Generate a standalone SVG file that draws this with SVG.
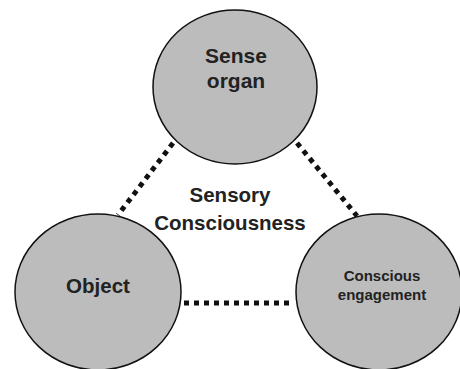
<svg xmlns="http://www.w3.org/2000/svg" width="460" height="369" viewBox="0 0 460 369">
<style>
.node{fill:#bcbcbc;stroke:#111;stroke-width:1.5}
.lbl{font-family:"Liberation Sans",Arial,sans-serif;font-weight:bold;fill:#222;text-anchor:middle}
.dot{stroke:#111;stroke-width:5;stroke-dasharray:5 5;fill:none}
</style>
<rect width="460" height="369" fill="#fff"/>
<g id="connectors">
<line class="dot" x1="173" y1="143" x2="118" y2="215"/>
<line class="dot" x1="297" y1="143" x2="357" y2="216"/>
<line class="dot" x1="184" y1="303" x2="292" y2="303"/>
</g>
<g id="sense-organ">
<ellipse class="node" cx="235" cy="87" rx="82" ry="77"/>
<text class="lbl" x="236" y="63" font-size="21">Sense</text>
<text class="lbl" x="236" y="88" font-size="21">organ</text>
</g>
<g id="object">
<ellipse class="node" cx="98" cy="292" rx="83" ry="78"/>
<text class="lbl" x="98" y="293" font-size="20.5">Object</text>
</g>
<g id="conscious-engagement">
<ellipse class="node" cx="379" cy="292" rx="83" ry="78"/>
<text class="lbl" x="382" y="281" font-size="15">Conscious</text>
<text class="lbl" x="382" y="300" font-size="15">engagement</text>
</g>
<g id="center-label">
<text class="lbl" x="230" y="202" font-size="20.5">Sensory</text>
<text class="lbl" x="230" y="230" font-size="20.5">Consciousness</text>
</g>
</svg>
